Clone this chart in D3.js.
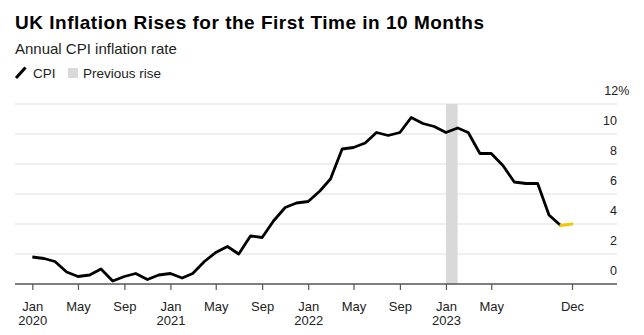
<!DOCTYPE html>
<html>
<head>
<meta charset="utf-8">
<script src="https://cdn.jsdelivr.net/npm/d3@7"></script>
<style>
  body { margin: 0; background: #fff; }
  svg { display: block; font-family: "Liberation Sans", Arial, sans-serif; }
</style>
</head>
<body>
<div id="chart"></div>
<script>
// monthly UK CPI, Jan 2020 - Dec 2023
var months = d3.timeMonths(new Date(2020, 0, 1), new Date(2024, 0, 1));
var cpi = [
  1.8, 1.7, 1.5, 0.8, 0.5, 0.6, 1.0, 0.2, 0.5, 0.7, 0.3, 0.6,
  0.7, 0.4, 0.7, 1.5, 2.1, 2.5, 2.0, 3.2, 3.1, 4.2, 5.1, 5.4,
  5.5, 6.2, 7.0, 9.0, 9.1, 9.4, 10.1, 9.9, 10.1, 11.1, 10.7, 10.5,
  10.1, 10.4, 10.1, 8.7, 8.7, 7.9, 6.8, 6.7, 6.7, 4.6, 3.9, 4.0
];
var yTicks = [0, 2, 4, 6, 8, 10, 12];
var xTicks = [
  new Date(2020, 0, 1), new Date(2020, 4, 1), new Date(2020, 8, 1),
  new Date(2021, 0, 1), new Date(2021, 4, 1), new Date(2021, 8, 1),
  new Date(2022, 0, 1), new Date(2022, 4, 1), new Date(2022, 8, 1),
  new Date(2023, 0, 1), new Date(2023, 4, 1), new Date(2023, 11, 1)
];
var previousRise = [new Date(2023, 0, 1), new Date(2023, 1, 1)];

var width = 644;
var height = 335;
var left = 15, right = 617;

var svg = d3.select("#chart").append("svg")
  .attr("width", width)
  .attr("height", height);

var x = d3.scaleTime()
  .domain([new Date(2020, 0, 1), new Date(2023, 11, 1)])
  .range([32.3, 572]);

var y = d3.scaleLinear()
  .domain([0, 12])
  .range([284, 104]);

// title block
svg.append("text")
  .attr("x", 15).attr("y", 28.5)
  .attr("font-size", 19)
  .attr("font-weight", "bold")
  .attr("fill", "#000")
  .attr("textLength", 469)
  .attr("lengthAdjust", "spacing")
  .text("UK Inflation Rises for the First Time in 10 Months");

svg.append("text")
  .attr("x", 15).attr("y", 53.5)
  .attr("font-size", 15)
  .attr("fill", "#222")
  .text("Annual CPI inflation rate");

// legend
svg.append("line")
  .attr("x1", 16).attr("y1", 78).attr("x2", 25.5).attr("y2", 67.5)
  .attr("stroke", "#000").attr("stroke-width", 3);
svg.append("text")
  .attr("x", 33).attr("y", 78)
  .attr("font-size", 13.5).attr("fill", "#222")
  .text("CPI");
svg.append("rect")
  .attr("x", 68).attr("y", 68).attr("width", 10).attr("height", 10)
  .attr("fill", "#d9d9d9");
svg.append("text")
  .attr("x", 83).attr("y", 78)
  .attr("font-size", 13.5).attr("fill", "#222")
  .text("Previous rise");

// gridlines
svg.selectAll(".grid")
  .data(yTicks.filter(function (d) { return d > 0 }))
  .enter()
  .append("line")
  .attr("class", "grid")
  .attr("x1", left).attr("x2", right)
  .attr("y1", function (d) { return y(d) })
  .attr("y2", function (d) { return y(d) })
  .attr("stroke", "#e0e0e0")
  .attr("stroke-width", 1.2);

// grey band
svg.append("rect")
  .attr("x", x(previousRise[0]))
  .attr("width", x(previousRise[1]) - x(previousRise[0]))
  .attr("y", y(12))
  .attr("height", y(0) - y(12))
  .attr("fill", "#d9d9d9");

// y labels
svg.selectAll(".ylab")
  .data(yTicks)
  .enter()
  .append("text")
  .attr("class", "ylab")
  .attr("x", right)
  .attr("y", function (d) { return y(d) - 9.5 })
  .attr("text-anchor", "end")
  .attr("font-size", 12.5)
  .attr("fill", "#222")
  .text(function (d) { return d })
  .filter(function (d) { return d === 12 })
  .append("tspan")
  .text("%");
svg.selectAll(".ylab")
  .filter(function (d) { return d === 12 })
  .attr("text-anchor", "start")
  .attr("x", 604.3);

// x axis
var xAxis = d3.axisBottom(x)
  .tickValues(xTicks)
  .tickSize(6)
  .tickFormat(function (d) { return d3.timeFormat("%b")(d) });

var gx = svg.append("g")
  .attr("transform", "translate(0," + y(0) + ")")
  .call(xAxis);
gx.select(".domain").remove();
gx.selectAll(".tick line").attr("stroke", "#555").attr("stroke-width", 1.2);
gx.selectAll(".tick text")
  .attr("font-size", 13)
  .attr("fill", "#222")
  .attr("font-family", "Liberation Sans, Arial, sans-serif")
  .attr("dy", "1.35em");
gx.selectAll(".tick")
  .filter(function (d) { return d.getMonth() === 0 })
  .append("text")
  .attr("y", 32)
  .attr("dy", "0.71em")
  .attr("fill", "#222")
  .attr("font-size", 13)
  .attr("font-family", "Liberation Sans, Arial, sans-serif")
  .text(function (d) { return d.getFullYear() });

svg.append("line")
  .attr("x1", left).attr("x2", right)
  .attr("y1", y(0)).attr("y2", y(0))
  .attr("stroke", "#555").attr("stroke-width", 1.5);

// CPI line
var points = months.map(function (m, i) { return { date: m, value: cpi[i] } });
var line = d3.line()
  .x(function (d) { return x(d.date) })
  .y(function (d) { return y(d.value) });

svg.append("path")
  .datum(points.slice(0, points.length - 1))
  .attr("d", line)
  .attr("fill", "none")
  .attr("stroke", "#000")
  .attr("stroke-width", 2.8)
  .attr("stroke-linejoin", "round");

svg.append("path")
  .datum(points.slice(points.length - 2))
  .attr("d", line)
  .attr("fill", "none")
  .attr("stroke", "#f7c400")
  .attr("stroke-width", 2.8)
  .attr("stroke-linecap", "round");
</script>
</body>
</html>
